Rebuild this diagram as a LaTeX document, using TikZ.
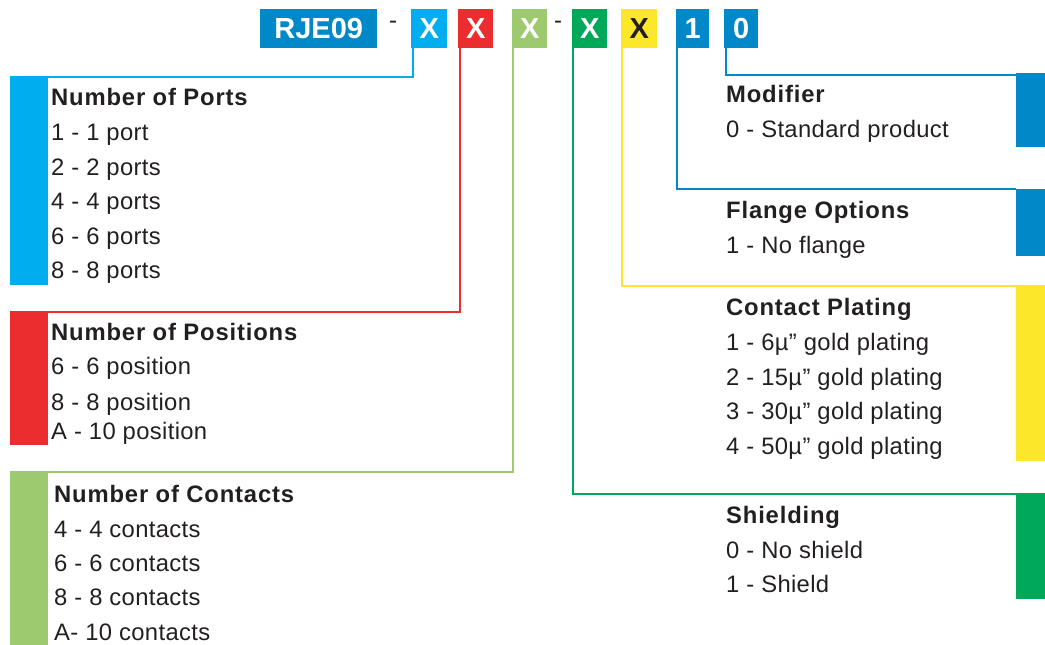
\documentclass[tikz,border=0pt]{standalone}
\usepackage{fontspec}
\setmainfont{Liberation Sans}
\newfontfamily\ttlfont{Liberation Sans}[LetterSpace=3.5]
\newfontfamily\itemfont{Liberation Sans}[LetterSpace=1.5]
\definecolor{cyanc}{HTML}{00AEEF}
\definecolor{redc}{HTML}{EC2D30}
\definecolor{lgreenc}{HTML}{9DCA6F}
\definecolor{greenc}{HTML}{00A85A}
\definecolor{yellowc}{HTML}{FDE72A}
\definecolor{bluec}{HTML}{0088C9}
\definecolor{textc}{HTML}{231F20}
\begin{document}
\begin{tikzpicture}[x=1pt,y=-1pt,
  codebox/.style={anchor=north west, minimum height=39pt, inner sep=0pt, text=white,
    font=\fontsize{29}{30}\selectfont\bfseries},
  sidebar/.style={anchor=north west, inner sep=0pt, minimum width=#1},
  conn/.style={line width=2pt},
  txt/.style={anchor=base west, inner sep=0pt, text=textc, font=\itemfont\fontsize{23.8}{26}\selectfont},
  ttl/.style={anchor=base west, inner sep=0pt, text=textc, font=\ttlfont\fontsize{23.8}{26}\selectfont\bfseries},
  dashtxt/.style={inner sep=0pt, text=textc, font=\fontsize{24}{26}\selectfont}
]
\useasboundingbox (0,0) rectangle (1045,645);
% code boxes
\node[codebox, fill=bluec, minimum width=117pt] (rje) at (260,9) {RJE09};
\node[dashtxt] (d1) at (393,25) {-};
\node[codebox, fill=cyanc, minimum width=36pt] (x1) at (411,9) {X};
\node[codebox, fill=redc, minimum width=35pt] (x2) at (458,9) {X};
\node[codebox, fill=lgreenc, minimum width=35pt] (x3) at (512,9) {X};
\node[dashtxt] (d2) at (558,25) {-};
\node[codebox, fill=greenc, minimum width=35pt] (x4) at (572,9) {X};
\node[codebox, fill=yellowc, minimum width=36pt, text=textc] (x5) at (621,9) {X};
\node[codebox, fill=bluec, minimum width=33pt] (c1) at (676,9) {1};
\node[codebox, fill=bluec, minimum width=34pt] (c0) at (724,9) {0};
% left sidebars
\node[sidebar=38pt, fill=cyanc, minimum height=207pt] (portsbar) at (10,78) {};
\node[sidebar=38pt, fill=redc, minimum height=133pt] (posbar) at (10,312) {};
\node[sidebar=38pt, fill=lgreenc, minimum height=173pt] (conbar) at (10,472) {};
% right sidebars
\node[sidebar=29pt, fill=bluec, minimum height=74pt] (modbar) at (1016,73) {};
\node[sidebar=29pt, fill=bluec, minimum height=67pt] (flabar) at (1016,189) {};
\node[sidebar=29pt, fill=yellowc, minimum height=175pt] (platbar) at (1016,286) {};
\node[sidebar=29pt, fill=greenc, minimum height=105pt] (shibar) at (1016,494) {};
% connectors
\draw[conn, cyanc] ([xshift=2pt]x1.south west) |- ([yshift=1pt]portsbar.north west);
\draw[conn, redc] ([xshift=2pt]x2.south west) |- (posbar.north west);
\draw[conn, lgreenc] ([xshift=1pt]x3.south west) |- (conbar.north west);
\draw[conn, greenc] ([xshift=1pt]x4.south west) |- (shibar.north east);
\draw[conn, yellowc] ([xshift=1pt]x5.south west) |- (platbar.north east);
\draw[conn, bluec] ([xshift=1pt]c1.south west) |- (flabar.north west);
\draw[conn, bluec] ([xshift=2pt]c0.south west) |- ([yshift=-2pt]modbar.north west);
% left texts
\node[ttl] (t1) at (51,105) {Number of Ports};
\node[txt] (t1a) at (51,140.5) {1 - 1 port};
\node[txt] (t1b) at (51,175) {2 - 2 ports};
\node[txt] (t1c) at (51,209.5) {4 - 4 ports};
\node[txt] (t1d) at (51,244) {6 - 6 ports};
\node[txt] (t1e) at (51,278.5) {8 - 8 ports};
\node[ttl] (t2) at (51,340) {Number of Positions};
\node[txt] (t2a) at (51,374) {6 - 6 position};
\node[txt] (t2b) at (51,410) {8 - 8 position};
\node[txt] (t2c) at (51,439) {A - 10 position};
\node[ttl] (t3) at (54,502) {Number of Contacts};
\node[txt] (t3a) at (54,537) {4 - 4 contacts};
\node[txt] (t3b) at (54,571) {6 - 6 contacts};
\node[txt] (t3c) at (54,605) {8 - 8 contacts};
\node[txt] (t3d) at (54,640) {A- 10 contacts};
% right texts
\node[ttl] (r1) at (726,102) {Modifier};
\node[txt] (r1a) at (726,137) {0 - Standard product};
\node[ttl] (r2) at (726,218) {Flange Options};
\node[txt] (r2a) at (726,253) {1 - No flange};
\node[ttl] (r3) at (726,315) {Contact Plating};
\node[txt] (r3a) at (726,350) {1 - 6µ” gold plating};
\node[txt] (r3b) at (726,385) {2 - 15µ” gold plating};
\node[txt] (r3c) at (726,419) {3 - 30µ” gold plating};
\node[txt] (r3d) at (726,454) {4 - 50µ” gold plating};
\node[ttl] (r4) at (726,523) {Shielding};
\node[txt] (r4a) at (726,558) {0 - No shield};
\node[txt] (r4b) at (726,592) {1 - Shield};
\end{tikzpicture}
\end{document}
